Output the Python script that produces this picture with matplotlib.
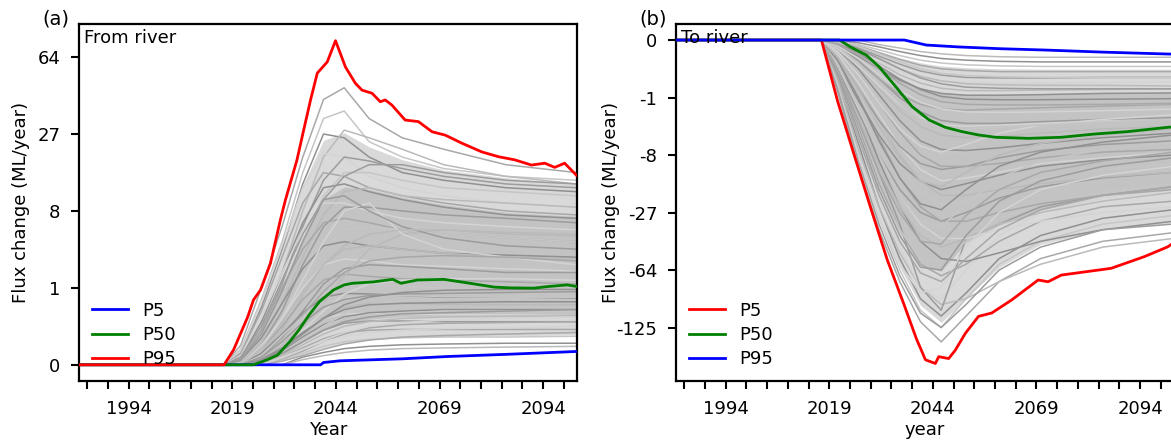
import numpy as np
import matplotlib
matplotlib.use("Agg")
import matplotlib.pyplot as plt

# ensemble members share one year grid
member_years = [1982, 2017, 2021, 2026, 2031, 2036, 2041, 2046, 2052, 2060, 2070, 2085, 2102]

# (a) flux from river, ML/year
from_river_members = [
    [0, 0, 0.016, 1.0, 5.8, 19.7, 41, 46.7, 32.8, 25.7, 22, 17.6, 15.6],
    [0, 0, 0.008, 0.61, 4.1, 15.6, 32.8, 35.9, 24.4, 19.7, 16.6, 14.7, 13.8],
    [0, 0, 0.0034, 0.42, 3.4, 13.0, 27, 25.7, 19.7, 15.6, 13.8, 12.2, 11.4],
    [0, 0, 0.001, 0.17, 1.73, 8.0, 19.7, 28.4, 25.7, 22, 17.6, 14.7, 13.0],
    [0, 0, 0.0058, 0.51, 3.7, 12.2, 20.8, 19.7, 14.7, 12.2, 10.6, 9.3, 8.6],
    [0, 0, 0.0005, 0.091, 1.16, 5.8, 13.8, 19.7, 18.6, 16.6, 14.7, 13.0, 12.2],
    [0, 0, 0.0034, 0.34, 2.74, 9.3, 15.6, 14.7, 12.2, 10.6, 9.3, 8.0, 7.4],
    [0, 0, 0.0001, 0.043, 0.73, 4.1, 10.6, 15.6, 15.6, 13.8, 12.2, 11.4, 10.6],
    [0, 0, 0.001, 0.17, 1.73, 6.3, 12.2, 13.0, 11.4, 9.9, 8.6, 7.4, 6.9],
    [0, 0, 0, 0.027, 0.51, 2.74, 7.4, 11.4, 12.2, 10.6, 9.9, 9.3, 8.6],
    [0, 0, 0.0017, 0.22, 1.73, 5.4, 9.3, 9.3, 8.0, 6.9, 6.3, 5.8, 5.4],
    [0, 0, 0, 0.016, 0.34, 2.2, 5.8, 8.6, 8.6, 8.0, 7.4, 6.9, 6.3],
    [0, 0, 0.0005, 0.091, 1.0, 3.4, 6.3, 6.9, 6.3, 5.4, 4.9, 4.5, 4.1],
    [0, 0, 0, 0.0058, 0.17, 1.16, 3.4, 5.4, 5.8, 5.4, 4.9, 4.5, 4.1],
    [0, 0, 0.0002, 0.043, 0.51, 1.95, 3.7, 4.1, 3.7, 3.4, 3.05, 2.9, 2.74],
    [0, 0, 0, 0.0034, 0.091, 0.73, 2.2, 3.4, 3.7, 3.4, 3.05, 2.74, 2.6],
    [0, 0, 0, 0.016, 0.22, 1.0, 2.2, 2.6, 2.46, 2.2, 2.1, 1.95, 1.8],
    [0, 0, 0, 0.001, 0.043, 0.34, 1.16, 1.95, 2.2, 2.1, 1.95, 1.73, 1.73],
    [0, 0, 0, 0.008, 0.125, 0.61, 1.33, 1.64, 1.52, 1.4, 1.33, 1.26, 1.16],
    [0, 0, 0, 0.0005, 0.022, 0.2, 0.68, 1.06, 1.16, 1.06, 1.0, 0.94, 0.88],
    [0, 0, 0, 0.0034, 0.064, 0.31, 0.68, 0.8, 0.78, 0.73, 0.68, 0.66, 0.64],
    [0, 0, 0, 0.0002, 0.008, 0.074, 0.24, 0.42, 0.51, 0.51, 0.49, 0.475, 0.475],
    [0, 0, 0, 0.0005, 0.016, 0.091, 0.22, 0.29, 0.3, 0.29, 0.275, 0.275, 0.26],
    [0, 0, 0, 0, 0.0027, 0.027, 0.091, 0.157, 0.185, 0.185, 0.176, 0.176, 0.176],
    [0, 0, 0, 0, 0.001, 0.0106, 0.039, 0.074, 0.091, 0.097, 0.097, 0.097, 0.097],
    [0, 0, 0, 0, 0.0003, 0.0034, 0.0138, 0.027, 0.036, 0.043, 0.047, 0.047, 0.051],
    [0, 0, 0, 0, 0, 0.001, 0.0041, 0.0093, 0.0138, 0.0176, 0.0197, 0.022, 0.022],
    [0, 0, 0, 0.0005, 0.016, 0.125, 0.51, 1.52, 3.4, 4.9, 5.4, 4.9, 4.7],
    [0, 0, 0, 0.008, 0.22, 1.33, 4.1, 8.0, 9.3, 4.9, 3.4, 2.74, 2.2],
    [0, 0, 0.001, 0.125, 1.33, 4.9, 9.9, 10.6, 8.0, 5.8, 4.5, 3.7, 3.4],
    [0, 0, 0, 0.001, 0.043, 0.275, 0.86, 1.73, 2.46, 2.74, 2.86, 2.74, 2.46],
    [0, 0, 0, 0.0017, 0.055, 0.24, 0.51, 0.68, 0.73, 0.73, 0.7, 0.68, 0.68],
    [0, 0, 0, 0.0001, 0.0058, 0.047, 0.141, 0.24, 0.31, 0.34, 0.37, 0.37, 0.37],
    [0, 0, 0, 0.008, 0.17, 0.86, 2.2, 3.7, 4.9, 5.4, 5.4, 5.1, 4.9],
    [0, 0, 0, 0.0002, 0.0106, 0.091, 0.34, 0.78, 1.16, 1.33, 1.4, 1.4, 1.33],
    [0, 0, 0.0002, 0.064, 0.86, 4.1, 9.9, 14.7, 17.6, 17.6, 15.6, 13.8, 13.0],
    [0, 0, 0, 0, 0.0005, 0.0058, 0.027, 0.064, 0.111, 0.141, 0.157, 0.166, 0.176],
    [0, 0, 0, 0, 0.0034, 0.033, 0.125, 0.29, 0.475, 0.59, 0.64, 0.64, 0.61],
    [0, 0, 0, 0.0003, 0.0106, 0.074, 0.22, 0.37, 0.475, 0.51, 0.53, 0.55, 0.55],
    [0, 0, 0, 0, 0.0017, 0.0176, 0.064, 0.125, 0.176, 0.22, 0.24, 0.25, 0.26],
    [0, 0, 0, 0, 0.0007, 0.008, 0.033, 0.074, 0.125, 0.166, 0.195, 0.22, 0.24],
    [0, 0, 0, 0.001, 0.027, 0.166, 0.42, 0.61, 0.73, 0.78, 0.8, 0.83, 0.86],
    [0, 0, 0, 0, 0.0001, 0.0017, 0.008, 0.0197, 0.033, 0.047, 0.055, 0.064, 0.074],
    [0, 0, 0, 0, 0.0041, 0.039, 0.125, 0.22, 0.275, 0.31, 0.34, 0.34, 0.34],
    [0, 0, 0, 0.0002, 0.008, 0.064, 0.22, 0.475, 0.68, 0.83, 0.91, 0.94, 0.94],
    [0, 0, 0, 0, 0, 0.0003, 0.0017, 0.0041, 0.0069, 0.0093, 0.0106, 0.0122, 0.0138],
    [0, 0, 0, 0, 0.001, 0.008, 0.027, 0.051, 0.074, 0.091, 0.104, 0.111, 0.125],
    [0, 0, 0, 0.0001, 0.0034, 0.027, 0.091, 0.176, 0.24, 0.29, 0.31, 0.34, 0.37],
]

from_p5_years = [1982, 2040.3, 2041, 2045, 2060, 2071, 2085, 2100, 2102]
from_p5 = [0, 0, 0.000027, 0.00014, 0.00047, 0.00126, 0.0025, 0.0048, 0.0052]

from_p50_years = [1982, 2024.1, 2027.5, 2029.9, 2033, 2035, 2037.5, 2040, 2043.4, 2046,
                  2048, 2053, 2057.7, 2059.7, 2063.7, 2070.1, 2076, 2082.2, 2086,
                  2091.8, 2095, 2099.8, 2102]
from_p50 = [0, 0, 0.0003, 0.002, 0.03, 0.09, 0.27, 0.55, 0.92, 1.12,
            1.19, 1.25, 1.37, 1.19, 1.34, 1.37, 1.2, 1.03, 1.0,
            0.99, 1.05, 1.12, 1.06]

from_p95_years = [1982, 2017, 2019.3, 2022.7, 2024.1, 2025.8, 2028.2, 2030.6, 2031.8,
                  2034.6, 2036, 2037.9, 2039.5, 2041.9, 2043.9, 2046.3, 2048.7,
                  2050.3, 2052.7, 2054.7, 2055.9, 2057.5, 2060.7, 2063.9, 2067.2,
                  2070.4, 2074.4, 2079.2, 2083.2, 2087.2, 2091.2, 2094.4, 2096.8,
                  2099.2, 2102]
from_p95 = [0, 0, 0.0074, 0.24, 0.6, 0.92, 2.3, 6.7, 9.8,
            18.9, 27, 41, 54.5, 61, 74.8, 58, 49,
            45.5, 44, 40, 40.8, 38.5, 32.2, 31.6, 27.8,
            26.6, 23.9, 21.2, 19.8, 18.9, 17.5, 18, 16.9,
            18, 15.0]

# (b) flux to river, ML/year
to_river_members = [
    [0, 0, -0.73, -10.6, -35.9, -74.1, -117.6, -144.7, -110.6, -74.1, -54.9, -42.9, -37.6],
    [0, 0, -0.51, -8.0, -29.8, -64, -103.8, -125, -91.1, -59.3, -42.9, -32.8, -28.4],
    [0, 0, -0.34, -5.8, -24.4, -54.9, -91.1, -110.6, -85.2, -54.9, -39.3, -29.8, -25.7],
    [0, 0, -0.42, -6.9, -24.4, -50.7, -79.5, -97.3, -91.1, -74.1, -59.3, -46.7, -41.1],
    [0, 0, -0.22, -4.1, -19.7, -46.7, -79.5, -91.1, -64, -39.3, -27, -20.8, -17.6],
    [0, 0, -0.17, -2.74, -12.2, -32.8, -79.5, -103.8, -41.1, -32.8, -24.4, -19.7, -16.6],
    [0, 0, -0.17, -3.4, -15.6, -35.9, -59.3, -68.9, -59.3, -42.9, -31.3, -24.4, -22],
    [0, 0, -0.34, -4.9, -17.6, -35.9, -54.9, -57.1, -42.9, -29.8, -23.1, -18.6, -15.6],
    [0, 0, -0.064, -1.73, -9.3, -24.4, -42.9, -54.9, -57.1, -50.7, -42.9, -35.9, -31.3],
    [0, 0, -0.125, -2.2, -10.6, -24.4, -39.3, -46.7, -41.1, -32.8, -27, -22, -18.6],
    [0, 0, -0.091, -1.73, -8.0, -19.7, -32.8, -41.1, -41.1, -35.9, -31.3, -27, -24.4],
    [0, 0, -0.125, -1.95, -8.0, -17.6, -27, -31.3, -27, -20.8, -16.6, -13.8, -12.2],
    [0, 0, -0.043, -0.86, -4.9, -13.8, -24.4, -31.3, -31.3, -27, -23.1, -19.7, -16.6],
    [0, 0, -0.043, -0.86, -4.1, -10.6, -18.6, -23.1, -22, -17.6, -13.8, -11.4, -9.9],
    [0, 0, -0.064, -1.16, -4.5, -9.9, -14.7, -17.6, -15.6, -13.0, -10.6, -9.0, -8.0],
    [0, 0, -0.016, -0.51, -2.74, -8.0, -14.7, -19.7, -19.7, -17.6, -15.6, -13.5, -12.2],
    [0, 0, -0.016, -0.42, -2.2, -6.3, -11.4, -14.7, -13.8, -12.2, -9.9, -8.6, -7.4],
    [0, 0, -0.027, -0.61, -2.74, -6.3, -9.9, -11.4, -10.6, -8.6, -7.1, -6.0, -5.4],
    [0, 0, -0.0058, -0.22, -1.33, -4.1, -8.0, -10.6, -10.6, -9.9, -8.6, -7.4, -6.9],
    [0, 0, -0.008, -0.22, -1.16, -3.4, -6.0, -7.8, -7.4, -6.6, -5.8, -5.1, -4.5],
    [0, 0, -0.0034, -0.125, -0.86, -2.74, -5.4, -6.9, -7.1, -6.6, -5.8, -4.9, -4.25],
    [0, 0, -0.0034, -0.091, -0.61, -1.82, -3.4, -4.5, -4.9, -4.7, -4.25, -3.7, -3.4],
    [0, 0, -0.0034, -0.091, -0.51, -1.4, -2.46, -3.18, -3.38, -3.24, -3.05, -2.74, -2.46],
    [0, 0, -0.001, -0.043, -0.31, -1.0, -1.95, -2.74, -3.05, -3.05, -2.86, -2.63, -2.46],
    [0, 0, -0.0017, -0.055, -0.31, -0.86, -1.4, -1.73, -1.82, -1.73, -1.64, -1.52, -1.4],
    [0, 0, -0.0005, -0.022, -0.166, -0.51, -1.0, -1.4, -1.56, -1.56, -1.48, -1.4, -1.33],
    [0, 0, -0.001, -0.022, -0.125, -0.34, -0.61, -0.8, -0.885, -0.885, -0.857, -0.8, -0.78],
    [0, 0, -0.0002, -0.008, -0.064, -0.22, -0.42, -0.59, -0.68, -0.68, -0.66, -0.64, -0.61],
    [0, 0, -0.0003, -0.008, -0.055, -0.157, -0.275, -0.358, -0.405, -0.42, -0.42, -0.405, -0.39],
    [0, 0, 0, -0.0027, -0.022, -0.074, -0.157, -0.227, -0.275, -0.287, -0.287, -0.275, -0.275],
    [0, 0, 0, -0.001, -0.0106, -0.039, -0.085, -0.125, -0.149, -0.166, -0.166, -0.166, -0.166],
    [0, 0, 0, -0.0005, -0.0049, -0.0197, -0.043, -0.064, -0.08, -0.091, -0.097, -0.097, -0.097],
    [0, 0, 0, -0.0001, -0.0017, -0.008, -0.0197, -0.033, -0.043, -0.051, -0.055, -0.055, -0.055],
    [0, 0, 0, 0, -0.0005, -0.0027, -0.008, -0.0138, -0.0197, -0.0244, -0.027, -0.027, -0.027],
    [0, 0, -0.51, -8.0, -29.8, -59.3, -85.2, -79.5, -46.7, -27, -17.6, -13.0, -10.6],
    [0, 0, -0.22, -4.1, -17.6, -39.3, -61.6, -64, -39.3, -22, -14.7, -10.6, -8.6],
    [0, 0, -0.125, -2.74, -12.2, -27, -42.9, -44.7, -28.4, -17.6, -12.2, -9.3, -7.4],
    [0, 0, -0.064, -1.52, -8.0, -19.7, -31.3, -34.3, -23.1, -13.8, -9.3, -6.9, -5.6],
    [0, 0, -0.043, -1.0, -5.4, -13.8, -23.1, -25.7, -17.6, -10.6, -7.4, -5.6, -4.5],
    [0, 0, -0.027, -0.61, -3.4, -8.6, -14.7, -16.6, -12.2, -8.0, -5.8, -4.5, -3.7],
    [0, 0, -0.008, -0.22, -1.33, -3.7, -6.3, -7.4, -6.0, -4.25, -3.24, -2.63, -2.2],
    [0, 0, -0.61, -9.3, -32.8, -68.9, -107.2, -125, -97.3, -64, -46.7, -35.9, -32.8],
    [0, 0, -0.275, -4.9, -19.7, -42.9, -66.4, -74.1, -54.9, -35.9, -25.7, -19.7, -17.6],
    [0, 0, -0.0017, -0.064, -0.42, -1.33, -2.63, -3.51, -3.72, -3.51, -3.24, -2.86, -2.63],
    [0, 0, -0.0002, -0.0106, -0.091, -0.31, -0.64, -0.94, -1.09, -1.12, -1.12, -1.09, -1.06],
    [0, 0, -0.0001, -0.0049, -0.036, -0.125, -0.25, -0.358, -0.44, -0.475, -0.49, -0.49, -0.51],
    [0, 0, -0.001, -0.033, -0.216, -0.68, -1.26, -1.73, -1.95, -2.0, -1.95, -1.86, -1.73],
    [0, 0, 0, -0.0034, -0.033, -0.125, -0.287, -0.44, -0.55, -0.59, -0.61, -0.61, -0.61],
    [0, 0, -0.0005, -0.0156, -0.125, -0.42, -0.86, -1.23, -1.4, -1.44, -1.44, -1.4, -1.33],
    [0, 0, 0, -0.0013, -0.0138, -0.055, -0.125, -0.195, -0.238, -0.262, -0.275, -0.275, -0.275],
]

to_p5_years = [1982, 2017.1, 2021, 2025, 2029, 2033, 2037, 2040, 2042.2, 2044.6,
               2045.4, 2047.8, 2049.4, 2051.8, 2055, 2058.2, 2063, 2069.4, 2071.8,
               2075, 2087, 2095, 2100.7, 2102]
to_p5 = [0, 0, -1.2, -8.0, -25, -56, -97, -140, -172, -178,
         -167, -170, -157, -133, -111, -107, -92.4, -72.7, -74.3,
         -68.3, -62.6, -53.5, -46.5, -44]

to_p50_years = [1982, 2021.5, 2024, 2027.9, 2031, 2035, 2039, 2043.1, 2047, 2051,
                2055, 2059.2, 2067.1, 2075, 2083, 2091, 2100.7, 2102]
to_p50 = [0, 0, -0.0016, -0.0177, -0.1, -0.53, -1.56, -2.69, -3.5, -4.04,
          -4.5, -4.84, -5.0, -4.84, -4.37, -4.04, -3.5, -3.45]

to_p95_years = [1982, 2037.1, 2042.4, 2050, 2060, 2071.2, 2085, 2100.7, 2102]
to_p95 = [0, 0, -0.00066, -0.0017, -0.0034, -0.0053, -0.0093, -0.0144, -0.0147]

from_ticks = [0, 1, 8, 27, 64]
to_ticks = [0, -1, -8, -27, -64, -125]
year_ticks = list(range(1984, 2100, 5))

gray_shades = ["#a8a8a8", "#c6c6c6", "#909090", "#bababa", "#d4d4d4", "#9c9c9c"]

plt.rcParams["font.family"] = "DejaVu Sans"
plt.rcParams["font.size"] = 13

fig = plt.figure(figsize=(11.71, 4.43), dpi=100)
ax_a = fig.add_axes([0.0675, 0.14, 0.4253, 0.806])
ax_b = fig.add_axes([0.5773, 0.14, 0.4253, 0.806])


def style_axis(ax, ticks, ylim, xlabel, ylabel_x):
    ax.set_yscale("function", functions=(np.cbrt, lambda v: v ** 3))
    ax.set_xlim(1982, 2102.2)
    ax.set_ylim(*ylim)
    ax.set_yticks(ticks)
    ax.set_yticklabels([str(t) for t in ticks])
    ax.yaxis.set_minor_locator(plt.NullLocator())
    ax.set_xticks(year_ticks)
    ax.set_xticklabels([str(y) if (y - 1994) % 25 == 0 else "" for y in year_ticks])
    ax.tick_params(direction="out", length=6, width=1.5, labelsize=13, pad=7.5)
    ax.set_xlabel(xlabel, fontsize=13, labelpad=2)
    ax.set_ylabel("Flux change (ML/year)", fontsize=13)
    ax.yaxis.set_label_coords(ylabel_x, 0.5)
    for sp in ax.spines.values():
        sp.set_linewidth(1.6)


def draw_members(ax, members):
    # shade the spread of the ensemble so overlapping runs read as one band
    arr = np.array(members)
    p5, p20, p80, p95 = np.percentile(arr, [5, 20, 80, 95], axis=0)
    ax.fill_between(member_years, p5, p95, color="#d9d9d9", lw=0, zorder=0)
    ax.fill_between(member_years, p20, p80, color="#c3c3c3", lw=0, zorder=0)
    for i, m in enumerate(members):
        ax.plot(member_years, m, color=gray_shades[i % len(gray_shades)], lw=1.1, zorder=1)


draw_members(ax_a, from_river_members)
ax_a.plot(from_p5_years, from_p5, color="blue", lw=2, label="P5", zorder=3)
ax_a.plot(from_p50_years, from_p50, color="green", lw=2, label="P50", zorder=3)
ax_a.plot(from_p95_years, from_p95, color="red", lw=2, label="P95", zorder=3)
style_axis(ax_a, from_ticks, (-0.0093, 87), "Year", -0.098)
ax_a.text(0.01, 0.985, "From river", transform=ax_a.transAxes, ha="left", va="top", fontsize=13)
ax_a.legend(loc="lower left", frameon=False, fontsize=13, labelspacing=0.35, borderaxespad=0.3)

draw_members(ax_b, to_river_members)
ax_b.plot(to_p5_years, to_p5, color="red", lw=2, label="P5", zorder=3)
ax_b.plot(to_p50_years, to_p50, color="green", lw=2, label="P50", zorder=3)
ax_b.plot(to_p95_years, to_p95, color="blue", lw=2, label="P95", zorder=3)
style_axis(ax_b, to_ticks, (-208.5, 0.022), "year", -0.112)
ax_b.text(0.01, 0.985, "To river", transform=ax_b.transAxes, ha="left", va="top", fontsize=13)
ax_b.legend(loc="lower left", frameon=False, fontsize=13, labelspacing=0.35, borderaxespad=0.3)

fig.text(56 / 1171, 1 - 19 / 443, "(a)", ha="center", va="center", fontsize=14)
fig.text(653 / 1171, 1 - 19 / 443, "(b)", ha="center", va="center", fontsize=14)

fig.savefig("out.png", dpi=100)
